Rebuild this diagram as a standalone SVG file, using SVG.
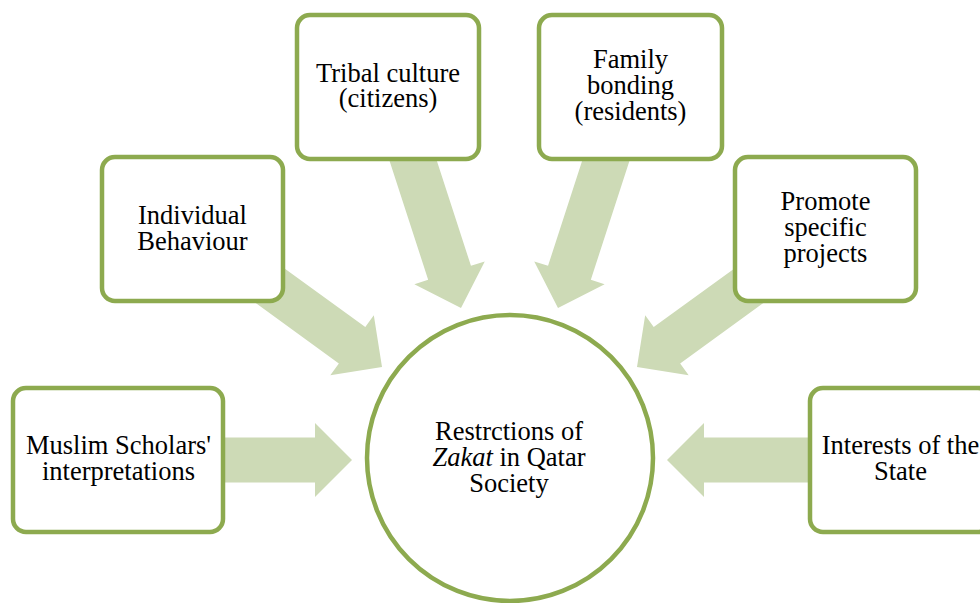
<svg xmlns="http://www.w3.org/2000/svg" width="980" height="603" viewBox="0 0 980 603">
<style>
.box{fill:#fff;stroke:#8DAA4F;stroke-width:4.5}
.arr{fill:#CDDAB6}
text{font-family:"Liberation Serif","Times New Roman",serif;font-size:26.5px;fill:#000;text-anchor:middle}
</style>
<rect width="980" height="603" fill="#fff"/>
<g id="connectors">
<path class="arr" d="M0,0 L-37,-37 L-37,-22.5 L-150,-22.5 L-150,22.5 L-37,22.5 L-37,37 Z" transform="translate(352,460)"/>
<path class="arr" d="M0,0 L-37,-37 L-37,-22.5 L-150,-22.5 L-150,22.5 L-37,22.5 L-37,37 Z" transform="translate(667,460) rotate(180)"/>
<path class="arr" d="M0,0 L-37,-37 L-37,-22.5 L-150,-22.5 L-150,22.5 L-37,22.5 L-37,37 Z" transform="translate(382,367) rotate(36)"/>
<path class="arr" d="M0,0 L-37,-37 L-37,-22.5 L-150,-22.5 L-150,22.5 L-37,22.5 L-37,37 Z" transform="translate(637,367) rotate(144)"/>
<path class="arr" d="M0,0 L-37,-37 L-37,-22.5 L-175,-22.5 L-175,22.5 L-37,22.5 L-37,37 Z" transform="translate(461,308) rotate(72)"/>
<path class="arr" d="M0,0 L-37,-37 L-37,-22.5 L-175,-22.5 L-175,22.5 L-37,22.5 L-37,37 Z" transform="translate(558,308) rotate(108)"/>
</g>
<g id="center">
<circle class="box" cx="510" cy="458" r="143"/>
<text x="509" y="440">Restrctions of</text>
<text x="509" y="466"><tspan font-style="italic">Zakat</tspan> in Qatar</text>
<text x="509" y="492">Society</text>
</g>
<g id="muslim">
<rect class="box" x="13" y="388" width="210" height="144" rx="13"/>
<text x="118.5" y="454">Muslim Scholars'</text>
<text x="118.5" y="479.5">interpretations</text>
</g>
<g id="individual">
<rect class="box" x="102" y="157" width="181" height="144" rx="13"/>
<text x="192.5" y="224">Individual</text>
<text x="192.5" y="250">Behaviour</text>
</g>
<g id="tribal">
<rect class="box" x="297" y="15" width="182" height="144" rx="13"/>
<text x="388" y="82">Tribal culture</text>
<text x="388" y="107">(citizens)</text>
</g>
<g id="family">
<rect class="box" x="539" y="15" width="183" height="144" rx="13"/>
<text x="630.5" y="68">Family</text>
<text x="630.5" y="94">bonding</text>
<text x="630.5" y="120">(residents)</text>
</g>
<g id="promote">
<rect class="box" x="735" y="157" width="181" height="144" rx="13"/>
<text x="825.5" y="210">Promote</text>
<text x="825.5" y="236">specific</text>
<text x="825.5" y="262">projects</text>
</g>
<g id="interests">
<rect class="box" x="810" y="388" width="181" height="144" rx="13"/>
<text x="900.5" y="454">Interests of the</text>
<text x="900.5" y="480">State</text>
</g>
</svg>
